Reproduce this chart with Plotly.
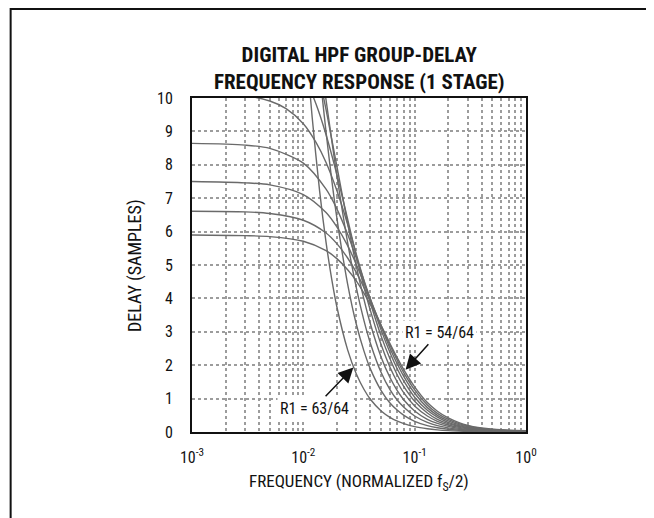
import plotly.graph_objects as go

# ---- data (frequency normalized to fs/2, delay in samples) ----
freq_54 = [0.001, 0.003, 0.005, 0.01, 0.016, 0.02, 0.025, 0.03, 0.04, 0.05, 0.06, 0.07, 0.08, 0.1, 0.13, 0.16, 0.2, 0.25, 0.3, 0.4, 0.5, 0.7, 1.0]
delay_54 = [5.90, 5.88, 5.85, 5.71, 5.43, 5.19, 4.86, 4.52, 3.82, 3.19, 2.65, 2.21, 1.86, 1.35, 0.88, 0.62, 0.42, 0.28, 0.20, 0.12, 0.084, 0.053, 0.042]

freq_55 = [0.001, 0.003, 0.005, 0.01, 0.016, 0.02, 0.025, 0.03, 0.04, 0.05, 0.06, 0.07, 0.08, 0.1, 0.13, 0.16, 0.2, 0.25, 0.3, 0.4, 0.5, 0.7, 1.0]
delay_55 = [6.61, 6.59, 6.54, 6.34, 5.96, 5.64, 5.21, 4.77, 3.92, 3.19, 2.60, 2.14, 1.77, 1.26, 0.81, 0.56, 0.38, 0.25, 0.18, 0.11, 0.075, 0.048, 0.038]

freq_56 = [0.001, 0.003, 0.005, 0.01, 0.016, 0.02, 0.025, 0.03, 0.04, 0.05, 0.06, 0.07, 0.08, 0.1, 0.13, 0.16, 0.2, 0.25, 0.3, 0.4, 0.5, 0.7, 1.0]
delay_56 = [7.50, 7.46, 7.40, 7.11, 6.57, 6.14, 5.58, 5.01, 3.98, 3.15, 2.51, 2.03, 1.66, 1.16, 0.73, 0.50, 0.335, 0.22, 0.16, 0.096, 0.066, 0.042, 0.033]

freq_57 = [0.001, 0.003, 0.005, 0.01, 0.016, 0.02, 0.025, 0.03, 0.04, 0.05, 0.06, 0.07, 0.08, 0.1, 0.13, 0.16, 0.2, 0.25, 0.3, 0.4, 0.5, 0.7, 1.0]
delay_57 = [8.64, 8.59, 8.49, 8.05, 7.27, 6.68, 5.92, 5.20, 3.98, 3.05, 2.38, 1.88, 1.52, 1.04, 0.65, 0.445, 0.29, 0.19, 0.14, 0.083, 0.058, 0.036, 0.029]

freq_58 = [0.001, 0.003, 0.005, 0.007, 0.01, 0.013, 0.016, 0.02, 0.025, 0.03, 0.035, 0.04, 0.05, 0.06, 0.07, 0.08, 0.1, 0.13, 0.16, 0.2, 0.25, 0.3, 0.4, 0.5, 0.7, 1.0]
delay_58 = [10.16, 10.07, 9.91, 9.68, 9.23, 8.67, 8.07, 7.23, 6.22, 5.31, 4.53, 3.87, 2.87, 2.19, 1.70, 1.36, 0.92, 0.57, 0.38, 0.25, 0.166, 0.118, 0.071, 0.049, 0.031, 0.025]

freq_59 = [0.007, 0.01, 0.013, 0.016, 0.02, 0.025, 0.03, 0.035, 0.04, 0.05, 0.06, 0.07, 0.08, 0.1, 0.13, 0.16, 0.2, 0.25, 0.3, 0.4, 0.5, 0.7, 1.0]
delay_59 = [11.46, 10.70, 9.82, 8.90, 7.71, 6.37, 5.25, 4.35, 3.64, 2.61, 1.94, 1.49, 1.17, 0.78, 0.48, 0.32, 0.21, 0.137, 0.098, 0.059, 0.041, 0.026, 0.020]

freq_60 = [0.01, 0.013, 0.016, 0.02, 0.025, 0.03, 0.035, 0.04, 0.05, 0.06, 0.07, 0.08, 0.1, 0.13, 0.16, 0.2, 0.25, 0.3, 0.4, 0.5, 0.7, 1.0]
delay_60 = [12.53, 11.07, 9.65, 7.96, 6.25, 4.95, 3.98, 3.24, 2.24, 1.63, 1.23, 0.96, 0.63, 0.38, 0.257, 0.167, 0.109, 0.078, 0.047, 0.032, 0.020, 0.016]

freq_61 = [0.013, 0.016, 0.018, 0.02, 0.025, 0.03, 0.035, 0.04, 0.05, 0.06, 0.07, 0.08, 0.1, 0.13, 0.16, 0.2, 0.25, 0.3, 0.4, 0.5, 0.7, 1.0]
delay_61 = [12.09, 9.94, 8.73, 7.68, 5.67, 4.30, 3.34, 2.66, 1.78, 1.27, 0.95, 0.74, 0.48, 0.29, 0.19, 0.125, 0.082, 0.058, 0.035, 0.024, 0.015, 0.012]

freq_62 = [0.013, 0.015, 0.016, 0.018, 0.02, 0.025, 0.03, 0.035, 0.04, 0.05, 0.06, 0.07, 0.08, 0.1, 0.13, 0.16, 0.2, 0.25, 0.3, 0.4, 0.5, 0.7, 1.0]
delay_62 = [11.87, 9.84, 8.98, 7.55, 6.41, 4.43, 3.21, 2.43, 1.89, 1.24, 0.87, 0.65, 0.50, 0.32, 0.19, 0.128, 0.083, 0.054, 0.038, 0.023, 0.016, 0.010, 0.008]

freq_63 = [0.01, 0.011, 0.012, 0.014, 0.016, 0.018, 0.02, 0.025, 0.03, 0.035, 0.04, 0.05, 0.06, 0.07, 0.08, 0.1, 0.13, 0.16, 0.2, 0.25, 0.3, 0.4, 0.5, 0.7, 1.0]
delay_63 = [12.76, 10.92, 9.43, 7.22, 5.68, 4.57, 3.75, 2.46, 1.73, 1.28, 0.98, 0.63, 0.44, 0.325, 0.25, 0.16, 0.096, 0.064, 0.041, 0.027, 0.019, 0.011, 0.008, 0.005, 0.004]

series = [
    (freq_54, delay_54), (freq_55, delay_55), (freq_56, delay_56), (freq_57, delay_57),
    (freq_58, delay_58), (freq_59, delay_59), (freq_60, delay_60), (freq_61, delay_61),
    (freq_62, delay_62), (freq_63, delay_63),
]

x_tick_vals = [0.001, 0.01, 0.1, 1.0]
x_tick_text = ["10<sup>-3</sup>", "10<sup>-2</sup>", "10<sup>-1</sup>", "10<sup>0</sup>"]
x_minor_vals = [m * d for d in (0.001, 0.01, 0.1) for m in range(2, 10)]
y_tick_vals = list(range(0, 11))

label_texts = ["R1 = 63/64", "R1 = 54/64"]

FONT = "Liberation Sans Narrow, Arial Narrow, Roboto Condensed, Roboto, sans-serif"
GRID = "#9c9c9c"
CURVE = "#6a6a6a"

fig = go.Figure()
for fx, dy in series:
    fig.add_trace(go.Scatter(
        x=fx, y=dy, mode="lines",
        line=dict(color=CURVE, width=1.4, shape="spline", smoothing=0.8),
        showlegend=False, hoverinfo="skip",
    ))

# the page body adds an 8px offset, so the figure is drawn 8px smaller and shifted
fig.update_layout(
    width=646, height=510,
    margin=dict(l=184, r=128, t=90, b=86),
    paper_bgcolor="white", plot_bgcolor="white",
    font=dict(family=FONT, size=16, color="#111111"),
    showlegend=False,
)

fig.update_xaxes(
    type="log", range=[-3, 0],
    tickmode="array", tickvals=x_tick_vals, ticktext=x_tick_text,
    showgrid=True, gridcolor=GRID, gridwidth=1.5, griddash="dot",
    minor=dict(tickmode="array", tickvals=x_minor_vals, showgrid=True,
               gridcolor=GRID, gridwidth=1.5, griddash="dot", ticks=""),
    showline=True, linecolor="#111111", linewidth=2, mirror=True,
    ticks="", ticklabelstandoff=10,
    tickfont=dict(family=FONT, size=16),
    zeroline=False,
)
fig.update_yaxes(
    range=[0, 10], tickmode="array", tickvals=y_tick_vals,
    showgrid=True, gridcolor=GRID, gridwidth=1.5, griddash="dot",
    showline=True, linecolor="#111111", linewidth=2, mirror=True,
    ticks="", ticklabelstandoff=14,
    tickfont=dict(family=FONT, size=16),
    zeroline=False,
)

# outer frame
fig.add_shape(type="rect", xref="paper", yref="paper",
              x0=-0.543, x1=1.377, y0=-0.35, y1=1.2665,
              line=dict(color="#111111", width=2), fillcolor="rgba(0,0,0,0)", layer="below")

# title
fig.add_annotation(xref="paper", yref="paper", x=0.5, y=1.087,
                   text="<b>DIGITAL HPF GROUP-DELAY<br>FREQUENCY RESPONSE (1 STAGE)</b>",
                   showarrow=False, xanchor="center", yanchor="middle",
                   font=dict(family=FONT, size=21, color="#111111"))
# axis titles
fig.add_annotation(xref="paper", yref="paper", x=-0.1707, y=0.5,
                   text="DELAY (SAMPLES)", textangle=-90, showarrow=False,
                   xanchor="center", yanchor="middle", font=dict(family=FONT, size=18))
fig.add_annotation(xref="paper", yref="paper", x=0.5, y=-0.151,
                   text="FREQUENCY (NORMALIZED f<sub>S</sub>/2)", showarrow=False,
                   xanchor="center", yanchor="middle", font=dict(family=FONT, size=17))

# labels with arrows (text sits at the tail, arrow points at the curve)
fig.add_annotation(x=-1.5508, y=1.933, ax=-1.904, ay=0.711, xref="x", yref="y",
                   axref="x", ayref="y", text=label_texts[0], showarrow=True,
                   arrowhead=2, arrowsize=2, arrowwidth=1.5, arrowcolor="#111111", standoff=0,
                   bgcolor="white", borderpad=2,
                   font=dict(family=FONT, size=16, color="#111111"))
fig.add_annotation(x=-1.0818, y=1.864, ax=-0.7808, ay=2.99, xref="x", yref="y",
                   axref="x", ayref="y", text=label_texts[1], showarrow=True,
                   arrowhead=2, arrowsize=2, arrowwidth=1.5, arrowcolor="#111111", standoff=0,
                   bgcolor="white", borderpad=2,
                   font=dict(family=FONT, size=16, color="#111111"))

fig.write_html("out.html")
